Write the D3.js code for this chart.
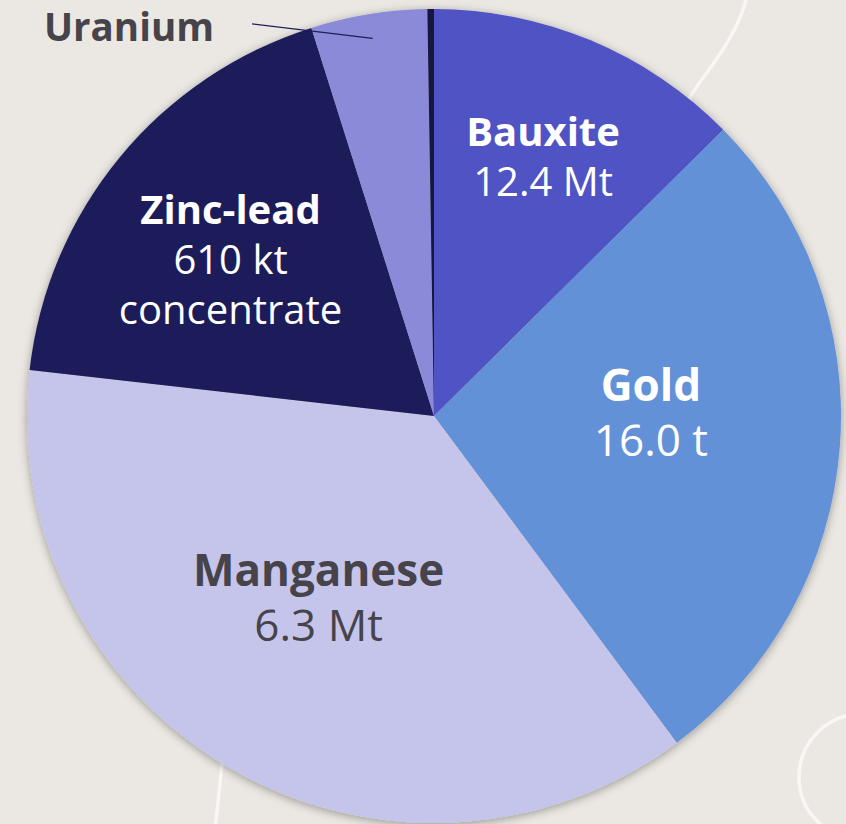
<!DOCTYPE html>
<html>
<head>
<meta charset="utf-8">
<script src="https://cdn.jsdelivr.net/npm/d3@7/dist/d3.min.js"></script>
<style>
  html, body { margin: 0; padding: 0; background: #ebe8e3; }
  svg { display: block; }
</style>
</head>
<body>
<svg id="chart" width="846" height="824"></svg>
<script>
// ---- data ----
const categories = ["Bauxite", "Gold", "Manganese", "Zinc-lead", "Uranium", "Other"];
const shares = [12.58, 27.25, 36.97, 18.33, 4.61, 0.26];
const amounts = ["12.4 Mt", "16.0 t", "6.3 Mt", "610 kt", "", ""];
const extraLines = ["", "", "", "concentrate", "", ""];
const colors = ["#4f52c4", "#6391d8", "#c5c5ec", "#1e1e5a", "#8a8ad8", "#15153f"];
const textColors = ["#ffffff", "#ffffff", "#46444a", "#ffffff", "#46444a", "#ffffff"];

// ---- layout ----
const W = 846, H = 824;
const cx = 434, cy = 416, R = 407;
const fontSizes = [40, 44, 44, 40, 38.5, 0];
const labelRadius = [0.69, 0.533, 0.53, 0.63];
const labelAngleShift = [0.2, -5.2, 2.4, -2.0]; // degrees, from slice mid-angle
const FONT = "'Open Sans', 'Noto Sans', sans-serif";

const svg = d3.select("#chart");

// decorative background strokes
const deco = svg.append("g").attr("fill", "none").attr("stroke", "#f8f7f4")
  .attr("stroke-width", 3.5).attr("stroke-linecap", "round");
deco.append("path").attr("d", "M746,0 C738,30 720,55 700,82 C680,110 660,150 640,200");
deco.append("circle").attr("cx", 862).attr("cy", 777).attr("r", 63);
deco.append("path").attr("d", "M224,740 C222,770 218,800 215,830");

// shadow filter
const defs = svg.append("defs");
const f = defs.append("filter").attr("id", "shadow")
  .attr("x", "-10%").attr("y", "-10%").attr("width", "120%").attr("height", "120%");
f.append("feDropShadow").attr("dx", 0).attr("dy", 2).attr("stdDeviation", 5)
  .attr("flood-color", "#000").attr("flood-opacity", 0.35);

const data = categories.map((c, i) => ({
  name: c, value: shares[i], amount: amounts[i], extra: extraLines[i],
  color: colors[i], textColor: textColors[i], fs: fontSizes[i], i
}));

const pie = d3.pie().value(d => d.value).sort(null).startAngle(0).endAngle(2 * Math.PI);
const arcs = pie(data);
const arc = d3.arc().innerRadius(0).outerRadius(R);

const g = svg.append("g").attr("transform", `translate(${cx},${cy})`);
g.append("g").attr("filter", "url(#shadow)")
  .selectAll("path").data(arcs).join("path")
  .attr("d", arc)
  .attr("fill", d => d.data.color);

// inside labels
const inside = arcs.filter(d => d.index < 4);
inside.forEach(a => {
  const i = a.index;
  const mid = (a.startAngle + a.endAngle) / 2 + labelAngleShift[i] * Math.PI / 180;
  const rr = R * labelRadius[i];
  const x = rr * Math.sin(mid), y = -rr * Math.cos(mid);
  const fs = a.data.fs, lh = fs * 1.25;
  const lines = [{ t: a.data.name, w: 700 }, { t: a.data.amount, w: 400 }];
  if (a.data.extra) lines.push({ t: a.data.extra, w: 400 });
  const y0 = y + fs * 0.35 - (lines.length - 1) * lh / 2;
  const t = g.append("text").attr("text-anchor", "middle")
    .attr("font-family", FONT).attr("font-size", fs).attr("fill", a.data.textColor);
  lines.forEach((ln, k) => {
    t.append("tspan").attr("x", x).attr("y", y0 + k * lh)
      .attr("font-weight", ln.w).text(ln.t);
  });
});

// Uranium leader label
const u = arcs[4];
const umid = (u.startAngle + u.endAngle) / 2;
const p1 = [R * 0.94 * Math.sin(umid), -R * 0.94 * Math.cos(umid)];
const endAng = 335.1 * Math.PI / 180, endR = R * 1.062;
const p2 = [endR * Math.sin(endAng), -endR * Math.cos(endAng)];
g.append("line")
  .attr("x1", p1[0]).attr("y1", p1[1]).attr("x2", p2[0]).attr("y2", p2[1])
  .attr("stroke", "#1e1e5a").attr("stroke-width", 1.2);
g.append("text").attr("x", p2[0] - 38).attr("y", p2[1] + 17)
  .attr("text-anchor", "end").attr("font-family", FONT).attr("font-size", u.data.fs)
  .attr("font-weight", 700).attr("fill", u.data.textColor).text(u.data.name);
</script>
</body>
</html>
